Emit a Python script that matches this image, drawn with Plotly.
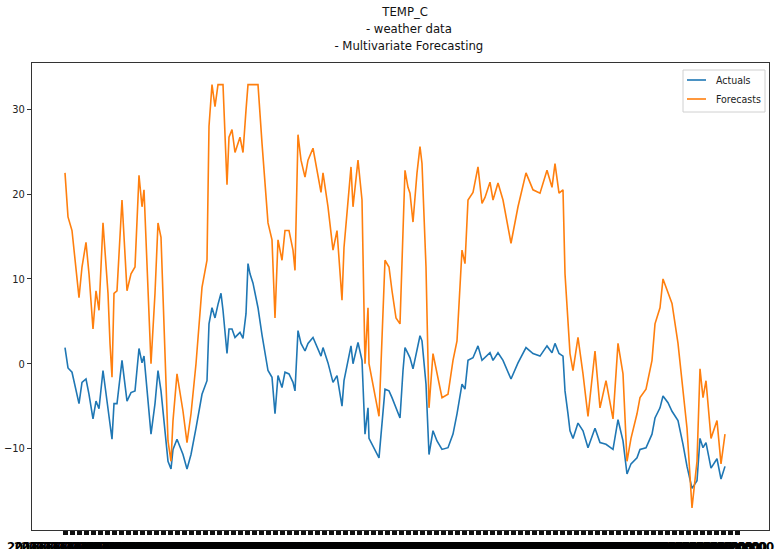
import plotly.graph_objects as go
import pandas as pd

# time step (hours from start of the test window)
steps = [0, 3, 7, 14, 17, 21, 24, 28, 31, 34, 38, 43, 45, 47, 49, 52, 57, 62, 66, 70,
         74, 77, 79, 86, 90, 93, 96, 103, 106, 108, 112, 118, 122, 126, 131, 137, 142, 144,
         147, 150, 153, 156, 158, 162, 164, 167, 170, 175, 178, 181, 183, 185, 188, 193, 197,
         200, 203, 207, 210, 213, 217, 220, 224, 228, 230, 233, 236, 240, 243, 248, 252, 256,
         258, 263, 268, 272, 277, 279, 286, 288, 293, 297, 300, 303, 304, 309, 314, 320, 324,
         327, 331, 335, 338, 340, 343, 345, 348, 352, 355, 357, 361, 364, 368, 372, 377, 383,
         388, 392, 397, 400, 403, 408, 413, 417, 420, 425, 428, 433, 438, 446, 453, 461, 468,
         475, 482, 487, 490, 494, 498, 500, 503, 505, 508, 513, 518, 523, 530, 535, 541, 548,
         553, 558, 562, 566, 572, 575, 581, 587, 590, 595, 598, 603, 607, 613, 618, 622, 627,
         632, 635, 638, 641, 646, 652, 656, 660, 665, 668, 671]

actuals = [1.9, -0.5, -1.0, -4.7, -2.2, -1.8, -3.6, -6.5, -4.4, -5.3, -0.8, -5.2, -7.1, -8.9,
           -4.7, -4.7, 0.4, -4.4, -3.4, -3.2, 1.8, 0.1, 0.9, -8.3, -4.7, -0.8, -3.2, -11.5,
           -12.4, -10.1, -8.9, -10.7, -12.4, -10.7, -7.6, -3.6, -2.0, 4.7, 6.6, 5.4, 7.0, 8.3,
           6.3, 1.2, 4.1, 4.1, 3.1, 3.7, 3.0, 5.9, 11.8, 10.6, 9.5, 6.6, 3.4, 1.3, -0.8, -1.6,
           -5.9, -1.4, -2.8, -1.0, -1.2, -2.2, -3.2, 3.9, 2.4, 1.5, 2.4, 3.1, 1.9, 0.9, 1.9, 0.1,
           -2.2, -1.4, -5.0, -2.0, 2.1, 0.0, 2.5, 0.4, -8.3, -5.2, -8.8, -9.9, -11.1, -3.0,
           -3.2, -4.0, -5.2, -6.4, -0.8, 1.9, 1.2, 0.7, -0.6, 1.9, 3.3, 2.7, -2.4, -10.7, -7.9,
           -9.1, -10.1, -9.9, -8.3, -5.9, -2.4, -3.0, 0.4, 0.7, 2.1, 0.4, 0.7, 1.3, 0.4, 1.3,
           0.4, -1.8, 0.1, 1.9, 1.2, 0.9, 2.1, 1.3, 2.4, 1.2, 0.9, -3.2, -5.9, -7.9, -8.8, -7.0,
           -7.9, -9.9, -7.6, -9.3, -9.5, -10.1, -6.6, -9.1, -13.0, -11.8, -11.1, -10.1, -9.9,
           -8.3, -6.4, -5.2, -3.8, -4.6, -5.6, -6.7, -9.5, -12.1, -14.7, -13.8, -8.8, -9.9,
           -9.3, -12.3, -11.2, -13.6, -12.1]

forecasts = [22.5, 17.3, 15.7, 7.8, 11.4, 14.3, 10.6, 4.1, 8.6, 6.3, 16.6, 8.3, 2.4, -1.6,
             8.3, 8.6, 19.3, 8.6, 10.6, 11.4, 22.2, 18.5, 20.5, 0.0, 8.3, 16.6, 14.9, -9.1,
             -11.5, -6.7, -1.2, -5.6, -9.3, -5.9, 0.0, 9.0, 12.2, 28.0, 32.9, 30.3, 32.9, 32.9,
             32.9, 21.1, 26.7, 27.6, 24.9, 26.7, 24.9, 29.9, 32.9, 32.9, 32.9, 32.9, 26.0, 21.3,
             16.6, 14.6, 5.4, 14.6, 12.2, 15.7, 15.7, 13.4, 11.0, 27.0, 24.0, 22.0, 24.0, 25.4,
             22.8, 20.2, 22.5, 18.5, 13.4, 15.7, 7.5, 13.7, 23.2, 18.5, 24.0, 19.3, 0.0, 6.6,
             0.0, -3.2, -6.2, 12.2, 11.4, 8.6, 5.4, 4.7, 16.9, 22.8, 20.8, 20.1, 16.7, 22.5,
             25.6, 23.6, 11.4, -5.2, 1.2, -1.2, -4.0, -3.6, 0.4, 2.7, 13.4, 11.8, 19.3, 20.2,
             23.2, 18.9, 19.6, 21.4, 19.3, 21.3, 19.3, 14.2, 18.5, 22.5, 20.5, 20.1, 22.8, 20.8,
             23.6, 20.1, 20.5, 10.6, 5.4, 1.2, -0.8, 3.1, -1.2, -6.2, 1.5, -5.2, -2.0, -6.5, 2.4,
             -1.2, -11.5, -8.8, -5.9, -4.0, -3.0, 0.4, 4.7, 6.6, 10.0, 8.3, 7.1, 2.4, -3.2, -7.6,
             -17.0, -11.5, -0.6, -4.0, -2.0, -8.8, -6.7, -11.8, -8.3]

# dense x tick labels (one per 7 hours) as in the original
tick_steps = list(range(0, 673, 7))
tick_labels = [d.strftime("%Y-%m-%d %H:%M") for d in
               pd.date_range("2016-11-20 00:00", periods=len(tick_steps), freq="7h")]

y_ticks = [-10, 0, 10, 20, 30]

BLUE = "#1f77b4"
ORANGE = "#ff7f0e"
FONT = "DejaVu Sans Condensed, DejaVu Sans, sans-serif"

fig = go.Figure()
fig.add_trace(go.Scatter(x=steps, y=actuals, mode="lines", name="Actuals",
                         line=dict(color=BLUE, width=1.6), showlegend=False))
fig.add_trace(go.Scatter(x=steps, y=forecasts, mode="lines", name="Forecasts",
                         line=dict(color=ORANGE, width=1.6), showlegend=False))

L, R, T, B = 32, 8, 63, 19
W, H = 777, 549
pw, ph = W - L - R, H - T - B


def px(xp):
    return (xp - L) / pw


def py(yp):
    return (H - B - yp) / ph


# custom matplotlib-like legend
fig.add_shape(type="rect", xref="paper", yref="paper",
              x0=px(683), x1=px(765), y0=py(112), y1=py(70),
              line=dict(color="#d0d0d0", width=1), fillcolor="rgba(255,255,255,0.85)")
for yy, col, name in [(80, BLUE, "Actuals"), (99, ORANGE, "Forecasts")]:
    fig.add_shape(type="line", xref="paper", yref="paper",
                  x0=px(687), x1=px(706), y0=py(yy), y1=py(yy),
                  line=dict(color=col, width=1.6))
    fig.add_annotation(xref="paper", yref="paper", x=px(714), y=py(yy), text=name,
                       showarrow=False, xanchor="left", yanchor="middle",
                       font=dict(family=FONT, size=10.5, color="#222"))

# title (three centred lines)
fig.add_annotation(xref="paper", yref="paper", x=px(405), y=py(2), yanchor="top",
                   xanchor="center", showarrow=False, align="center",
                   text="TEMP_C<br>&nbsp;&nbsp;- weather data<br>&nbsp;&nbsp;- Multivariate Forecasting",
                   font=dict(family=FONT, size=13, color="#111"))

fig.update_layout(
    width=W, height=H,
    margin=dict(l=L, r=R, t=T, b=B, autoexpand=False),
    paper_bgcolor="white", plot_bgcolor="white",
    font=dict(family=FONT, size=12, color="#222"),
)
fig.update_xaxes(range=[-33, 704], showgrid=False, zeroline=False,
                 showline=True, mirror=True, linecolor="#333", linewidth=1,
                 tickmode="array", tickvals=tick_steps, ticktext=tick_labels,
                 ticks="outside", ticklen=4, tickwidth=5, tickcolor="#111",
                 tickangle=0, automargin=False,
                 tickfont=dict(family=FONT, size=13, color="#000", weight="bold"))
fig.update_yaxes(range=[-19.6, 35.45], showgrid=False, zeroline=False,
                 showline=True, mirror=True, linecolor="#333", linewidth=1,
                 tickmode="array", tickvals=y_ticks,
                 ticks="outside", ticklen=4, tickwidth=1, tickcolor="#333",
                 automargin=False,
                 tickfont=dict(family=FONT, size=11, color="#222"))

fig.write_html("out.html", config={"displayModeBar": False},
               post_script="document.body.style.margin='0';")
